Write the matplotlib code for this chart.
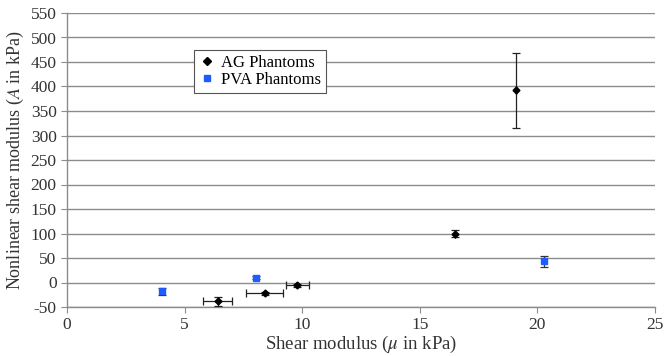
import numpy as np
import matplotlib.pyplot as plt
from matplotlib.lines import Line2D

plt.rcParams['font.family'] = ['Liberation Serif', 'DejaVu Serif']
plt.rcParams['mathtext.fontset'] = 'stix'
plt.rcParams['axes.unicode_minus'] = False

# AG phantoms
ag_x = [6.4, 8.4, 9.8, 16.5, 19.1]
ag_y = [-38, -22, -6, 100, 392]
ag_xerr = [0.6, 0.8, 0.5, 0.0, 0.0]
ag_yerr = [9, 3, 3, 8, 76]

# PVA phantoms
pva_x = [4.05, 8.03, 20.3]
pva_y = [-18, 10, 43]
pva_yerr = [7, 3, 12]

blue = '#1f5cff'

fig = plt.figure(figsize=(6.64, 3.56), dpi=100)
ax = fig.add_axes([67/664, 1 - 307/356, 588/664, 294/356])

ax.errorbar(ag_x, ag_y, xerr=ag_xerr, yerr=ag_yerr, fmt='D', color='black',
            ms=3.5, ecolor='#222222', elinewidth=0.9, capsize=3, capthick=0.9, zorder=3)
ax.errorbar(pva_x, pva_y, yerr=pva_yerr, fmt='s', color=blue, mec=blue,
            ms=4.5, ecolor='#333333', elinewidth=0.9, capsize=3, capthick=0.9, zorder=3)

ax.set_xlim(0, 25)
ax.set_ylim(-50, 550)
ax.set_xticks(np.arange(0, 26, 5))
ax.set_yticks(np.arange(-50, 551, 50))
ax.yaxis.grid(True, color='#8c8c8c', lw=1)
ax.set_axisbelow(True)

for s in ['top', 'right']:
    ax.spines[s].set_visible(False)
for s in ['left', 'bottom']:
    ax.spines[s].set_color('#8c8c8c')
    ax.spines[s].set_linewidth(1)
ax.tick_params(axis='both', colors='#8c8c8c', labelcolor='#333333',
               labelsize=12.5, length=4, direction='out')

ax.set_xlabel('Shear modulus ($\\mu$ in kPa)', fontsize=13.5, color='#333333', labelpad=0)
ax.set_ylabel('Nonlinear shear modulus ($A$ in kPa)', fontsize=13, color='#333333', labelpad=3)

handles = [Line2D([], [], ls='none', marker='D', color='black', ms=4),
           Line2D([], [], ls='none', marker='s', color=blue, ms=5)]
leg = ax.legend(handles, ['AG Phantoms', 'PVA Phantoms'], loc='upper left',
                bbox_to_anchor=(0.216, 0.875), borderaxespad=0, fontsize=12,
                frameon=True, fancybox=False, edgecolor='#555555', framealpha=1,
                handletextpad=0.3, borderpad=0.3, labelspacing=0.05, handlelength=1.0)
leg.get_frame().set_linewidth(0.8)

fig.savefig('out.png', dpi=100)
